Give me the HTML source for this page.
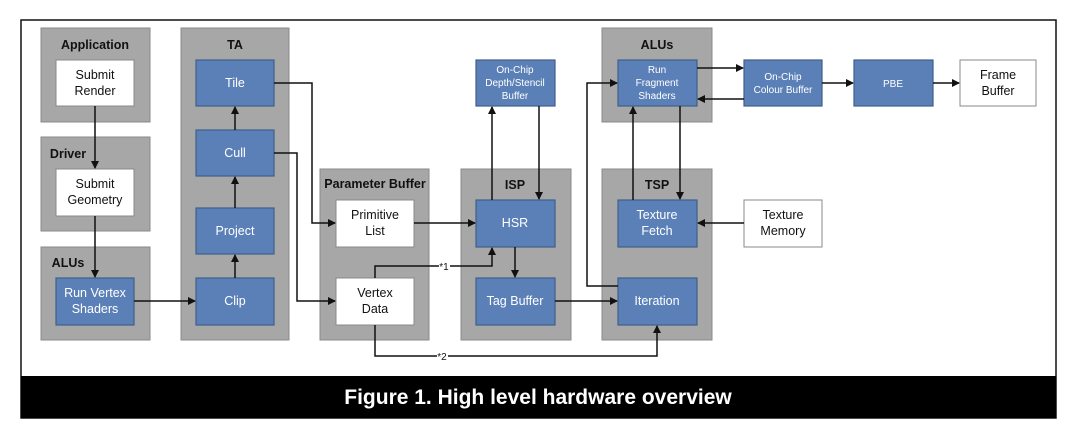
<!DOCTYPE html>
<html><head><meta charset="utf-8"><style>
html,body{margin:0;padding:0;background:#fff;}
svg{display:block;font-family:"Liberation Sans",Arial,sans-serif;}
.g{fill:#a7a7a7;stroke:#8a8a8a;stroke-width:1}
.b{fill:#5b80b8;stroke:#3f5f8a;stroke-width:1.2}
.w{fill:#fff;stroke:#8a8a8a;stroke-width:1}
.t{font-weight:bold;font-size:12.5px;fill:#111;text-anchor:middle}
.bt{fill:#fff;font-size:12.5px;text-anchor:middle}
.bs{fill:#fff;font-size:10px;text-anchor:middle}
.wt{fill:#111;font-size:12.5px;text-anchor:middle}
.l{stroke:#111;stroke-width:1.5;fill:none}
</style></head><body>
<svg width="1080" height="439" viewBox="0 0 1080 439">
<defs><marker id="a" markerWidth="8" markerHeight="8" refX="7" refY="4" orient="auto" markerUnits="userSpaceOnUse"><path d="M0,0 L8,4 L0,8 z" fill="#111"/></marker></defs>
<rect x="21" y="20" width="1035" height="398" fill="#fff" stroke="#111" stroke-width="1.5"/>
<rect x="21" y="376" width="1035" height="42" fill="#000"/>
<text x="538" y="404" fill="#fff" font-weight="bold" font-size="21" text-anchor="middle">Figure 1. High level hardware overview</text>

<!-- group boxes -->
<rect class="g" x="41" y="28" width="109" height="94"/>
<text class="t" x="95" y="49">Application</text>
<rect class="g" x="41" y="137" width="109" height="94"/>
<text class="t" x="68" y="158">Driver</text>
<rect class="g" x="41" y="247" width="109" height="93"/>
<text class="t" x="68" y="267">ALUs</text>
<rect class="g" x="181" y="28" width="108" height="312"/>
<text class="t" x="235" y="49">TA</text>
<rect class="g" x="320" y="169" width="109" height="171"/>
<text class="t" x="375" y="188" font-size="10.5">Parameter Buffer</text>
<rect class="g" x="461" y="169" width="110" height="171"/>
<text class="t" x="515" y="189">ISP</text>
<rect class="g" x="602" y="28" width="110" height="94"/>
<text class="t" x="657" y="49">ALUs</text>
<rect class="g" x="602" y="169" width="110" height="171"/>
<text class="t" x="657" y="189">TSP</text>

<!-- nodes -->
<rect class="w" x="56" y="60" width="78" height="46"/>
<text class="wt" x="95" y="79">Submit</text><text class="wt" x="95" y="95">Render</text>
<rect class="w" x="56" y="169" width="78" height="47"/>
<text class="wt" x="95" y="188">Submit</text><text class="wt" x="95" y="204">Geometry</text>
<rect class="b" x="56" y="278" width="78" height="47"/>
<text class="bt" x="95" y="297">Run Vertex</text><text class="bt" x="95" y="313">Shaders</text>

<rect class="b" x="196" y="60" width="78" height="46"/><text class="bt" x="235" y="87">Tile</text>
<rect class="b" x="196" y="130" width="78" height="46"/><text class="bt" x="235" y="157">Cull</text>
<rect class="b" x="196" y="208" width="78" height="46"/><text class="bt" x="235" y="235">Project</text>
<rect class="b" x="196" y="278" width="78" height="47"/><text class="bt" x="235" y="305">Clip</text>

<rect class="w" x="336" y="200" width="78" height="47"/>
<text class="wt" x="375" y="219">Primitive</text><text class="wt" x="375" y="235">List</text>
<rect class="w" x="336" y="278" width="78" height="47"/>
<text class="wt" x="375" y="297">Vertex</text><text class="wt" x="375" y="313">Data</text>

<rect class="b" x="476" y="60" width="79" height="46"/>
<text class="bs" x="515" y="73">On-Chip</text><text class="bs" x="515" y="86">Depth/Stencil</text><text class="bs" x="515" y="99">Buffer</text>
<rect class="b" x="476" y="200" width="79" height="47"/><text class="bt" x="515" y="227">HSR</text>
<rect class="b" x="476" y="278" width="79" height="47"/><text class="bt" x="515" y="305">Tag Buffer</text>

<rect class="b" x="618" y="60" width="79" height="46"/>
<text class="bs" x="657" y="73">Run</text><text class="bs" x="657" y="86">Fragment</text><text class="bs" x="657" y="99">Shaders</text>
<rect class="b" x="618" y="200" width="79" height="47"/>
<text class="bt" x="657" y="219">Texture</text><text class="bt" x="657" y="235">Fetch</text>
<rect class="b" x="618" y="278" width="79" height="47"/><text class="bt" x="657" y="305">Iteration</text>

<rect class="b" x="744" y="60" width="78" height="46"/>
<text class="bs" x="783" y="80">On-Chip</text><text class="bs" x="783" y="93">Colour Buffer</text>
<rect class="b" x="854" y="60" width="79" height="46"/><text class="bs" x="893" y="87">PBE</text>
<rect class="w" x="960" y="60" width="76" height="46"/>
<text class="wt" x="998" y="79">Frame</text><text class="wt" x="998" y="95">Buffer</text>
<rect class="w" x="744" y="200" width="78" height="47"/>
<text class="wt" x="783" y="219">Texture</text><text class="wt" x="783" y="235">Memory</text>

<!-- connectors -->
<path class="l" d="M95,106 V168" marker-end="url(#a)"/>
<path class="l" d="M95,216 V277" marker-end="url(#a)"/>
<path class="l" d="M134,301 H195" marker-end="url(#a)"/>
<path class="l" d="M235,278 V255" marker-end="url(#a)"/>
<path class="l" d="M235,208 V177" marker-end="url(#a)"/>
<path class="l" d="M235,130 V107" marker-end="url(#a)"/>
<path class="l" d="M274,83 H312 V223 H335" marker-end="url(#a)"/>
<path class="l" d="M274,153 H297 V301 H335" marker-end="url(#a)"/>
<path class="l" d="M414,223 H475" marker-end="url(#a)"/>
<path class="l" d="M375,278 V266 H439 M450,266 H492 V248" marker-end="url(#a)"/>
<text x="444" y="270" font-size="10" fill="#111" text-anchor="middle">*1</text>
<path class="l" d="M375,325 V356 H437 M448,356 H657 V326" marker-end="url(#a)"/>
<text x="442" y="360" font-size="10" fill="#111" text-anchor="middle">*2</text>
<path class="l" d="M492,200 V107" marker-end="url(#a)"/>
<path class="l" d="M539,106 V199" marker-end="url(#a)"/>
<path class="l" d="M515,247 V277" marker-end="url(#a)"/>
<path class="l" d="M555,301 H617" marker-end="url(#a)"/>
<path class="l" d="M618,286 H587 V83 H617" marker-end="url(#a)"/>
<path class="l" d="M633,200 V107" marker-end="url(#a)"/>
<path class="l" d="M680,106 V199" marker-end="url(#a)"/>
<path class="l" d="M744,223 H698" marker-end="url(#a)"/>
<path class="l" d="M697,68 H743" marker-end="url(#a)"/>
<path class="l" d="M744,99 H698" marker-end="url(#a)"/>
<path class="l" d="M822,83 H853" marker-end="url(#a)"/>
<path class="l" d="M933,83 H959" marker-end="url(#a)"/>
</svg>
</body></html>
